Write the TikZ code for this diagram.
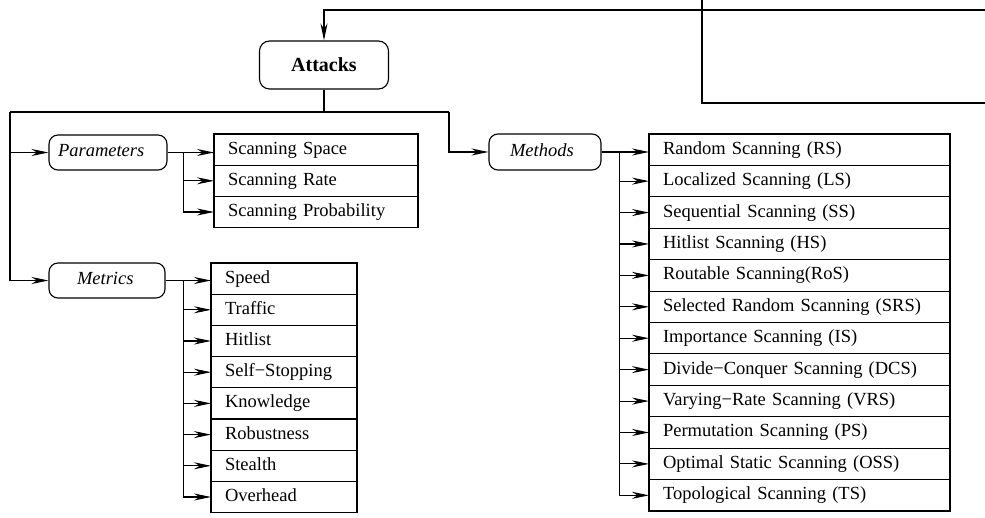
\documentclass[tikz,border=0pt]{standalone}
\usepackage{fontspec}
\setmainfont{Liberation Serif}
\usetikzlibrary{arrows.meta,calc}
\begin{document}
\begin{tikzpicture}[x=1pt,y=-1pt, line width=1.1pt,
  font=\fontsize{18.5}{22}\selectfont,
  arr/.style={-{Stealth[length=17pt,width=7pt,inset=5.5pt]}},
  rbox/.style={draw, rounded corners=9pt, inner ysep=0pt, align=left, text height=13pt, text depth=4pt, font=\fontsize{18.5}{22}\selectfont\itshape},
  item/.style={draw, minimum height=31.2pt, inner xsep=14pt, inner ysep=0pt, align=left, anchor=north west, outer sep=0pt, text height=13pt, text depth=4pt}
]
\useasboundingbox (0,0) rectangle (985,518);

% root
\node[draw, rounded corners=10pt, minimum width=129pt, minimum height=48pt, font=\fontsize{20}{24}\selectfont\bfseries] (att) at (324,65) {Attacks};

% second level
\node[rbox, minimum height=35pt, inner xsep=9pt, text width=100pt] (par) at (108,152.5) {Parameters};
\node[rbox, minimum height=35pt, inner xsep=28pt, text width=60pt] (met) at (107,280.5) {Metrics};
\node[rbox, minimum height=36pt, inner xsep=21pt, text width=70pt] (meth) at (545,152) {Methods};

% parameter list
\node[item, text width=176pt] (p1) at (214,134) {Scanning Space};
\node[item, text width=176pt] (p2) at (p1.south west) {Scanning Rate};
\node[item, text width=176pt] (p3) at (p2.south west) {Scanning Probability};

% metrics list
\node[item, text width=118pt] (m1) at (211,263) {Speed};
\node[item, text width=118pt] (m2) at (m1.south west) {Traffic};
\node[item, text width=118pt] (m3) at (m2.south west) {Hitlist};
\node[item, text width=118pt] (m4) at (m3.south west) {Self−Stopping};
\node[item, text width=118pt] (m5) at (m4.south west) {Knowledge};
\node[item, text width=118pt] (m6) at (m5.south west) {Robustness};
\node[item, text width=118pt] (m7) at (m6.south west) {Stealth};
\node[item, text width=118pt] (m8) at (m7.south west) {Overhead};

% methods list
\tikzset{mitem/.style={item, text width=273pt, minimum height=31.42pt}}
\node[mitem] (s1) at (649,134) {Random Scanning (RS)};
\node[mitem] (s2) at (s1.south west) {Localized Scanning (LS)};
\node[mitem] (s3) at (s2.south west) {Sequential Scanning (SS)};
\node[mitem] (s4) at (s3.south west) {Hitlist Scanning (HS)};
\node[mitem] (s5) at (s4.south west) {Routable Scanning(RoS)};
\node[mitem] (s6) at (s5.south west) {Selected Random Scanning (SRS)};
\node[mitem] (s7) at (s6.south west) {Importance Scanning (IS)};
\node[mitem] (s8) at (s7.south west) {Divide−Conquer Scanning (DCS)};
\node[mitem] (s9) at (s8.south west) {Varying−Rate Scanning (VRS)};
\node[mitem] (s10) at (s9.south west) {Permutation Scanning (PS)};
\node[mitem] (s11) at (s10.south west) {Optimal Static Scanning (OSS)};
\node[mitem] (s12) at (s11.south west) {Topological Scanning (TS)};

% top connectors
\coordinate (topr) at (985,10);
\coordinate (v0) at (702,0);
\coordinate (v1) at (702,103);
\coordinate (v2) at (985,103);
\draw[arr] (topr) -| (att.north);
\draw (v0) -- (v1) -- (v2);

% root to second level
\coordinate (bl) at (10,112);
\coordinate (br) at (449,112);
\draw (att.south) -- (att.south |- bl);
\draw (bl) -- (br);
\draw[arr] (bl) |- (par.west);
\draw[arr] (bl) |- (met.west);
\draw[arr] (br) |- (meth.west);

% parameters branch
\coordinate (pb) at ($(par.east)+(16,0)$);
\draw[arr] (par.east) -- (par.east -| p1.west);
\foreach \n in {p2,p3} \draw[arr] (pb) |- (\n.west);

% metrics branch
\coordinate (mb) at ($(met.east)+(18,0)$);
\draw[arr] (met.east) -- (met.east -| m1.west);
\foreach \n in {m2,m3,m4,m5,m6,m7,m8} \draw[arr] (mb) |- (\n.west);

% methods branch
\coordinate (sb) at ($(meth.east)+(18,0)$);
\draw[arr] (meth.east) -- (meth.east -| s1.west);
\foreach \n in {s2,s3,s4,s5,s6,s7,s8,s9,s10,s11,s12} \draw[arr] (sb) |- (\n.west);
\end{tikzpicture}
\end{document}
